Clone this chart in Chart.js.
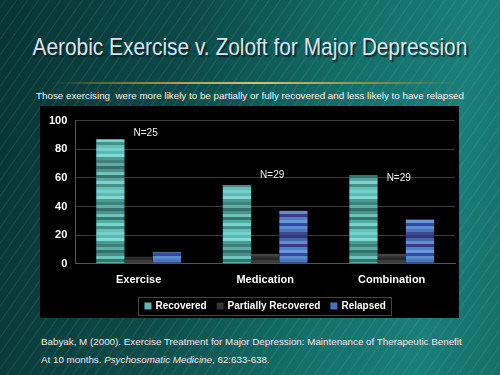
<!DOCTYPE html>
<html><head><meta charset="utf-8">
<script src="https://cdn.jsdelivr.net/npm/chart.js@4/dist/chart.umd.min.js"></script>
<style>
html,body{margin:0;padding:0;}
body{width:500px;height:375px;position:relative;overflow:hidden;font-family:"Liberation Sans",Arial,sans-serif;
background:linear-gradient(100deg,#083434 0%,#0c4a48 35%,#137069 65%,#1a7e79 85%,#147068 100%);}
#tex{position:absolute;left:0;top:0;width:500px;height:375px;
background:repeating-linear-gradient(-55deg,rgba(255,255,255,0) 0px,rgba(255,255,255,0) 7px,rgba(200,230,230,0.10) 8px,rgba(255,255,255,0) 9px);}
#title{position:absolute;left:0;top:33px;width:500px;text-align:center;font-size:24px;color:#d8e4f4;
text-shadow:2px 2px 2px #06201f;white-space:nowrap;}
#title span{display:inline-block;transform:scaleX(0.87);transform-origin:center;}
#rule{position:absolute;left:50px;top:82px;width:410px;height:2px;
background:linear-gradient(90deg,rgba(120,110,60,0),#b09a40 30%,#e0c060 50%,#b09a40 70%,rgba(120,110,60,0));}
#sub{position:absolute;left:0;top:90px;width:500px;text-align:center;font-size:9.8px;color:#f2f2f2;white-space:nowrap;}
#box{position:absolute;left:40px;top:106px;width:419px;height:212px;background:#000;}
#cite{position:absolute;left:41px;top:333px;font-size:9.8px;color:#eaeaea;line-height:18px;white-space:nowrap;}
</style></head>
<body>
<div id="tex"></div>
<div id="title"><span>Aerobic Exercise v. Zoloft for Major Depression</span></div>
<div id="rule"></div>
<div id="sub">Those exercising&nbsp; were more likely to be partially or fully recovered and less likely to have relapsed</div>
<div id="box"><canvas id="c" width="419" height="212"></canvas></div>
<div id="cite">Babyak, M (2000). Exercise Treatment for Major Depression: Maintenance of Therapeutic Benefit<br>At 10 months. <i>Psychosomatic Medicine</i>, 62:633-638.</div>
<script>
const categories = ['Exercise', 'Medication', 'Combination'];
const recovered = [87, 55, 62];
const partiallyRecovered = [5, 7, 7];
const relapsed = [8, 37, 31];
const yTicks = [0, 20, 40, 60, 80, 100];
const nLabels = ['N=25', 'N=29', 'N=29'];
const nLabelValues = [91, 62, 60];

function stripes(colors, h) {
  const cv = document.createElement('canvas');
  cv.width = 4; cv.height = colors.length * h;
  const cx = cv.getContext('2d');
  colors.forEach((c, i) => { cx.fillStyle = c; cx.fillRect(0, i * h, 4, h); });
  return cx.createPattern(cv, 'repeat');
}
const ctx = document.getElementById('c').getContext('2d');
const recPat = stripes(['#72d2ce','#5fb8b4','#80dad2','#4a9a94','#3f807c','#5aaea8','#34706c','#4d8f8a','#6cc4bc','#3c726e','#58a8a2','#7ad2cc','#46908a','#66c0b8'], 3);
const parPat = stripes(['#3a3a3a','#2c2c2c','#444','#333','#282828','#3c3c3c'], 2);
const relPat = stripes(['#5a8ad0','#4a78bc','#3a4a90','#30387a','#4466a8','#5f90d4','#3c3c84','#4f7fc4','#6a98d8','#3848a0'], 3);
const legendSwatch = ['#5fb8b4', '#333333', '#4a70c0'];
const FONT = '"Liberation Sans", Arial, sans-serif';

const nPlugin = {
  id: 'nlabels',
  afterDatasetsDraw(chart) {
    const c = chart.ctx, xs = chart.scales.x, ys = chart.scales.y;
    c.save();
    c.fillStyle = '#f0f0f0';
    c.font = '10px ' + FONT;
    c.textAlign = 'center'; c.textBaseline = 'middle';
    nLabels.forEach((t, i) => {
      c.fillText(t, xs.getPixelForValue(i) + 7, ys.getPixelForValue(nLabelValues[i]));
    });
    c.restore();
  },
  afterDraw(chart) {
    const c = chart.ctx, ca = chart.chartArea;
    const ds = chart.data.datasets;
    c.save();
    c.font = 'bold 10px ' + FONT;
    c.textBaseline = 'middle';
    const box = 7, gapBT = 4, gapItem = 10;
    const widths = ds.map(d => box + gapBT + c.measureText(d.label).width);
    const total = widths.reduce((a, b) => a + b, 0) + gapItem * (ds.length - 1);
    const cx = (ca.left + ca.right) / 2;
    const cy = 200;
    let x = cx - total / 2;
    c.strokeStyle = '#444'; c.lineWidth = 1;
    c.strokeRect(Math.round(x - 6) + 0.5, Math.round(cy - 9) + 0.5, Math.round(total + 12), 18);
    ds.forEach((d, i) => {
      c.fillStyle = legendSwatch[i];
      c.fillRect(x, cy - box / 2, box, box);
      c.fillStyle = '#ffffff';
      c.fillText(d.label, x + box + gapBT, cy + 0.5);
      x += widths[i] + gapItem;
    });
    c.restore();
  }
};

new Chart(ctx, {
  type: 'bar',
  data: {
    labels: categories,
    datasets: [
      { label: 'Recovered', data: recovered, backgroundColor: recPat, borderWidth: 0 },
      { label: 'Partially Recovered', data: partiallyRecovered, backgroundColor: parPat, borderWidth: 0 },
      { label: 'Relapsed', data: relapsed, backgroundColor: relPat, borderWidth: 0 }
    ]
  },
  options: {
    responsive: false,
    animation: false,
    layout: { padding: { left: 1, right: 4, top: 11, bottom: 21 } },
    datasets: { bar: { categoryPercentage: 0.67, barPercentage: 1.0 } },
    scales: {
      x: {
        grid: { display: false, drawTicks: false },
        border: { color: '#555' },
        ticks: { color: '#ffffff', font: { family: FONT, size: 11, weight: 'bold' }, padding: 10 }
      },
      y: {
        min: 0, max: 100,
        afterBuildTicks(s) { s.ticks = yTicks.map(v => ({ value: v })); },
        grid: { color: '#3a3a3a', drawTicks: false },
        border: { color: '#555' },
        ticks: { color: '#ffffff', font: { family: FONT, size: 11, weight: 'bold' }, padding: 8 }
      }
    },
    plugins: {
      legend: { display: false },
      tooltip: { enabled: false }
    }
  },
  plugins: [nPlugin]
});
</script>
</body></html>
